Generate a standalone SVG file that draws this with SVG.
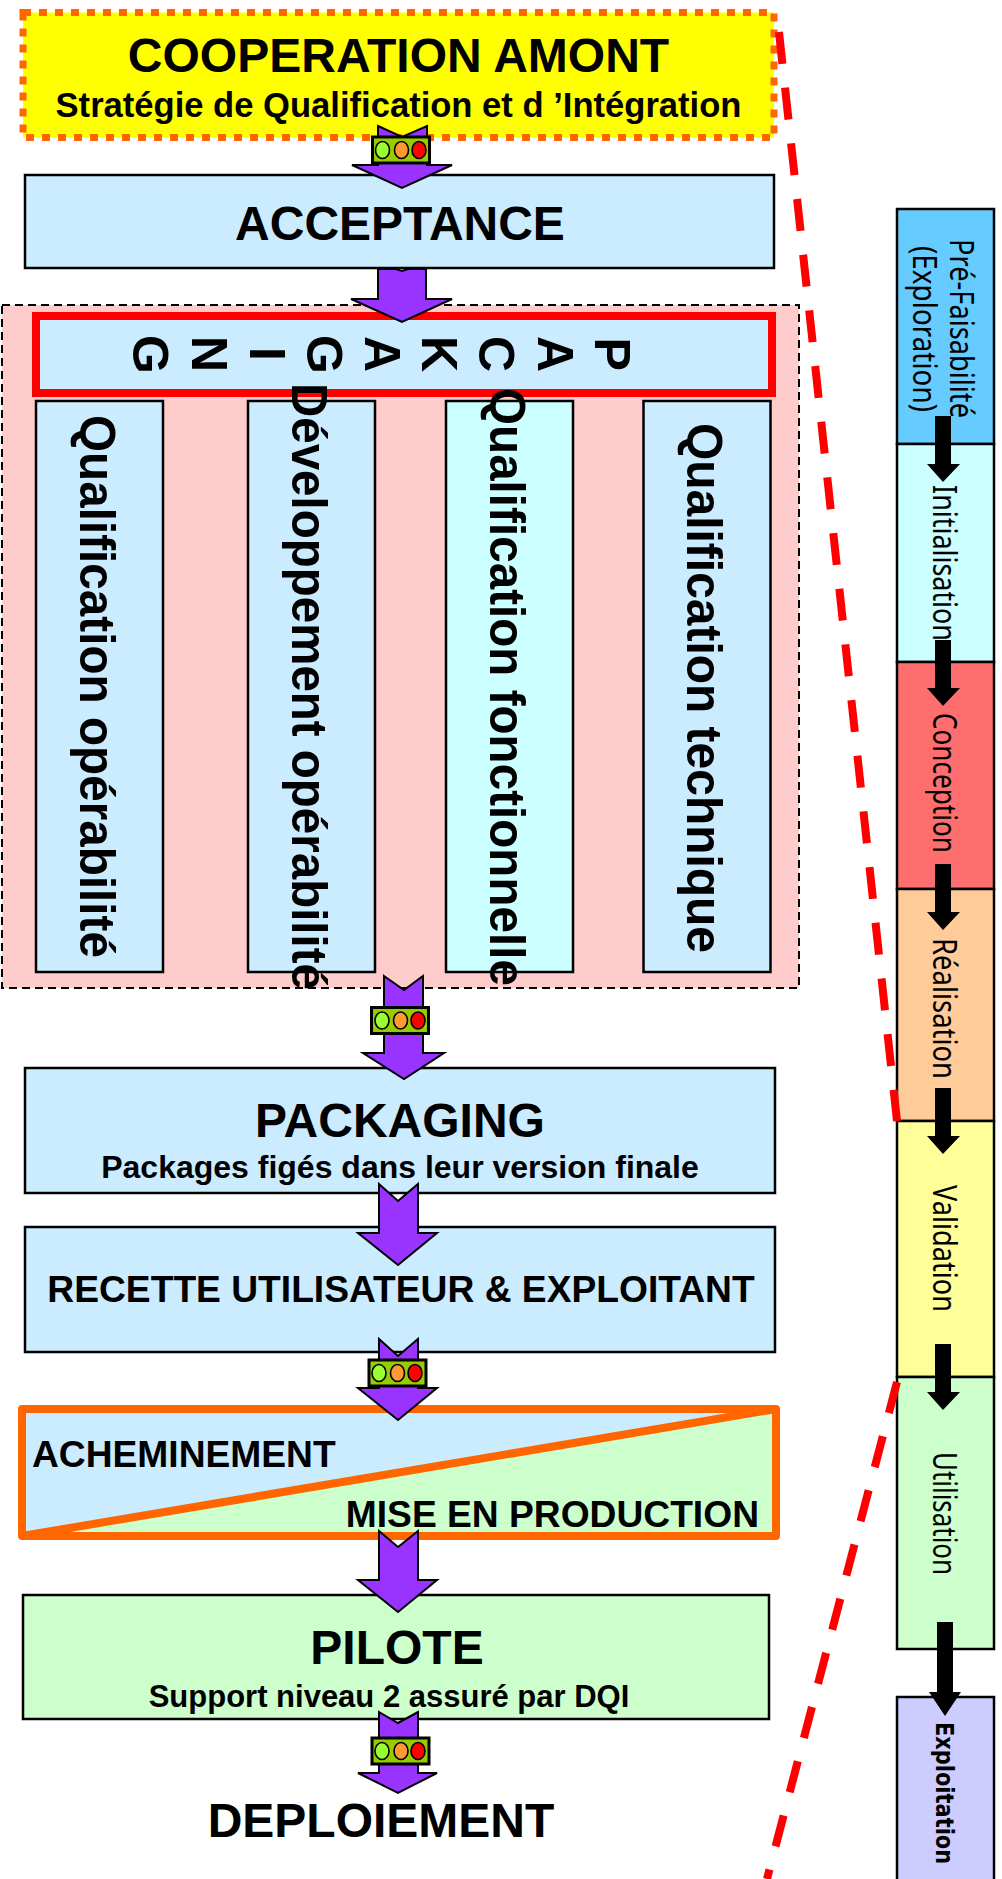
<svg xmlns="http://www.w3.org/2000/svg" width="1002" height="1879" viewBox="0 0 1002 1879">
<defs><style>
.b{stroke:#000;stroke-width:2.5}
.blue{fill:#cbebff}
.green{fill:#ccffcc}
text{font-family:"Liberation Sans",Arial,sans-serif;font-weight:bold;fill:#000}
.m{text-anchor:middle}
.big{font-size:48px}
.col{font-size:50px}
.side{font-family:"Noto Sans","DejaVu Sans",sans-serif;font-weight:normal;font-size:32px}
.arrow{fill:#9933ff;stroke:#000;stroke-width:2}
.tl{fill:#99cc00;stroke:#000;stroke-width:3}
.c{stroke:#000;stroke-width:1.6}
.blk{fill:#000}
.red{fill:none;stroke:#ff0000;stroke-width:8;stroke-dasharray:32 24}
</style></defs>
<rect width="1002" height="1879" fill="#fff"/>
<g id="cooperation"><rect x="23" y="12.500" width="751" height="125" fill="#ffff00" stroke="#ff6600" stroke-width="7" stroke-dasharray="8 8"/>
<text class="big m" x="398.500" y="72">COOPERATION AMONT</text><text class="m" style="font-size:34.600px" x="398.500" y="117">Stratégie de Qualification et d ’Intégration</text></g>
<g id="acceptance"><rect class="b blue" x="25" y="175" width="749" height="93"/><text class="big m" x="400" y="240">ACCEPTANCE</text></g>
<g id="groupe"><rect x="2" y="305" width="797" height="683" fill="#ffcccc" stroke="#000" stroke-width="2" stroke-dasharray="8 5"/></g>
<g id="packaging-v"><rect class="blue" x="36" y="316" width="736" height="77" stroke="#ff0000" stroke-width="8"/>
<text style="font-size:50px" rotate="90" x="595 538 479 422 365 307 250 192 133" y="337.500 336 336 336 336 335 347 336 335">PACKAGING</text></g>
<g id="col1"><rect class="b blue" x="36" y="401" width="127" height="571"/><text class="col" transform="translate(80 415) rotate(90)" textLength="543" lengthAdjust="spacingAndGlyphs">Qualification opérabilité</text></g>
<g id="col2"><rect class="b blue" x="248" y="401" width="127" height="571"/><text class="col" transform="translate(292 383) rotate(90)" textLength="607" lengthAdjust="spacingAndGlyphs">Développement opérabilité</text></g>
<g id="col3"><rect class="b" fill="#ccffff" x="446" y="401" width="127" height="571"/><text class="col" transform="translate(490 388) rotate(90)" textLength="598" lengthAdjust="spacingAndGlyphs">Qualification fonctionnelle</text></g>
<g id="col4"><rect class="b blue" x="643.500" y="401" width="127" height="571"/><text class="col" transform="translate(687 423) rotate(90)" textLength="530" lengthAdjust="spacingAndGlyphs">Qualification technique</text></g>
<g id="packaging"><rect class="b blue" x="25" y="1068" width="750" height="125"/><text class="big m" x="400" y="1137">PACKAGING</text><text class="m" style="font-size:32px" x="400" y="1178">Packages figés dans leur version finale</text></g>
<g id="recette"><rect class="b blue" x="25" y="1227" width="750" height="125"/><text class="m" style="font-size:37.200px" x="401" y="1302">RECETTE UTILISATEUR &amp; EXPLOITANT</text></g>
<g id="acheminement"><rect x="22" y="1409" width="754" height="127" fill="#ccffcc"/><polygon class="blue" points="22,1409 776,1409 22,1536"/><rect x="22" y="1409" width="754" height="127" fill="none" stroke="#ff6600" stroke-width="8" stroke-linejoin="round"/><line x1="22" y1="1536" x2="776" y2="1409" stroke="#ff6600" stroke-width="8"/>
<text style="font-size:37.200px" x="32" y="1467">ACHEMINEMENT</text><text style="font-size:37.200px;text-anchor:end" x="759" y="1527">MISE EN PRODUCTION</text></g>
<g id="pilote"><rect class="b green" x="23" y="1595" width="746" height="124"/><text class="big m" x="397" y="1664">PILOTE</text><text class="m" style="font-size:31px" x="389" y="1707">Support niveau 2 assuré par DQI</text></g>
<g id="deploiement"><text class="big m" x="381" y="1837">DEPLOIEMENT</text></g>
<g id="s1"><rect class="b" fill="#66ccff" x="897" y="209" width="97" height="235"/><text class="side" transform="translate(950 239) rotate(90)" textLength="179" lengthAdjust="spacingAndGlyphs">Pré-Faisabilité</text><text class="side" transform="translate(913 246) rotate(90)" textLength="166" lengthAdjust="spacingAndGlyphs">(Exploration)</text></g>
<g id="s2"><rect class="b" fill="#ccffff" x="897" y="444" width="97" height="218"/><text class="side" transform="translate(933 485) rotate(90)" textLength="156" lengthAdjust="spacingAndGlyphs">Initialisation</text></g>
<g id="s3"><rect class="b" fill="#ff6e6e" x="897" y="662" width="97" height="227"/><text class="side" transform="translate(933 713) rotate(90)" textLength="140" lengthAdjust="spacingAndGlyphs">Conception</text></g>
<g id="s4"><rect class="b" fill="#ffcc99" x="897" y="889" width="97" height="232"/><text class="side" transform="translate(933 938) rotate(90)" textLength="141" lengthAdjust="spacingAndGlyphs">Réalisation</text></g>
<g id="s5"><rect class="b" fill="#ffff99" x="897" y="1121" width="97" height="256"/><text class="side" transform="translate(933 1185) rotate(90)" textLength="127" lengthAdjust="spacingAndGlyphs">Validation</text></g>
<g id="s6"><rect class="b green" x="897" y="1377" width="97" height="272"/><text class="side" transform="translate(933 1452) rotate(90)" textLength="123" lengthAdjust="spacingAndGlyphs">Utilisation</text></g>
<g id="s7"><rect class="b" fill="#ccccff" x="897" y="1697" width="97" height="190"/><text style="font-size:25px;font-family:'DejaVu Sans',sans-serif" transform="translate(936 1722) rotate(90) scale(0.76 1)" textLength="187" lengthAdjust="spacingAndGlyphs">Exploitation</text></g>
<g id="connectors">
<polygon class="arrow" points="378,126 402,137 427,126 427,165 452,165 402,188 352,165 378,165"/>
<polygon class="arrow" points="378,269 396,269 402,271 408,269 426,269 426,299 452,299 402,322 351,299 378,299"/>
<polygon class="arrow" points="384,976 404,990 423,976 423,1053 444,1053 404,1079 363,1053 384,1053"/>
<polygon class="arrow" points="379,1184 398,1201 418,1184 418,1233 437,1233 398,1265 358,1233 379,1233"/>
<polygon class="arrow" points="379,1339 398,1356 418,1339 418,1388 437,1388 398,1420 358,1388 379,1388"/>
<polygon class="arrow" points="379,1531 398,1547 418,1531 418,1580 437,1580 398,1612 358,1580 379,1580"/>
<polygon class="arrow" points="379,1712 398,1723 418,1712 418,1773 437,1773 398,1793 358,1773 379,1773"/>
<g id="tl1"><rect class="tl" x="372.500" y="137" width="57" height="26"/><ellipse class="c" cx="382.500" cy="150" rx="7" ry="8.500" fill="#99ff33"/><ellipse class="c" cx="401.500" cy="150" rx="7" ry="8.500" fill="#ff9933"/><ellipse class="c" cx="419" cy="150" rx="7" ry="8.500" fill="#ff0000"/></g>
<g id="tl2"><rect class="tl" x="371.500" y="1007.500" width="57" height="26"/><ellipse class="c" cx="382" cy="1020.500" rx="7" ry="8.500" fill="#99ff33"/><ellipse class="c" cx="400.500" cy="1020.500" rx="7" ry="8.500" fill="#ff9933"/><ellipse class="c" cx="418" cy="1020.500" rx="7" ry="8.500" fill="#ff0000"/></g>
<g id="tl3"><rect class="tl" x="369" y="1360" width="57" height="26"/><ellipse class="c" cx="379" cy="1373" rx="7" ry="8.500" fill="#99ff33"/><ellipse class="c" cx="397.500" cy="1373" rx="7" ry="8.500" fill="#ff9933"/><ellipse class="c" cx="415" cy="1373" rx="7" ry="8.500" fill="#ff0000"/></g>
<g id="tl4"><rect class="tl" x="372" y="1738" width="57" height="26"/><ellipse class="c" cx="382" cy="1751" rx="7" ry="8.500" fill="#99ff33"/><ellipse class="c" cx="401" cy="1751" rx="7" ry="8.500" fill="#ff9933"/><ellipse class="c" cx="418" cy="1751" rx="7" ry="8.500" fill="#ff0000"/></g>
<polygon class="blk" points="935,416 951,416 951,464 960,464 943,482 927,464 935,464"/>
<polygon class="blk" points="935,640 951,640 951,688 960,688 943,706 927,688 935,688"/>
<polygon class="blk" points="935,864 951,864 951,912 960,912 943,930 927,912 935,912"/>
<polygon class="blk" points="935,1088 951,1088 951,1136 960,1136 943,1154 927,1136 935,1136"/>
<polygon class="blk" points="935,1344 951,1344 951,1392 960,1392 943,1410 927,1392 935,1392"/>
<polygon class="blk" points="937,1622 953,1622 953,1692 961,1692 945,1716 929,1692 937,1692"/>
<line class="red" x1="779" y1="32" x2="897" y2="1121"/>
<line class="red" x1="897" y1="1382" x2="767" y2="1879"/>
</g>
</svg>
